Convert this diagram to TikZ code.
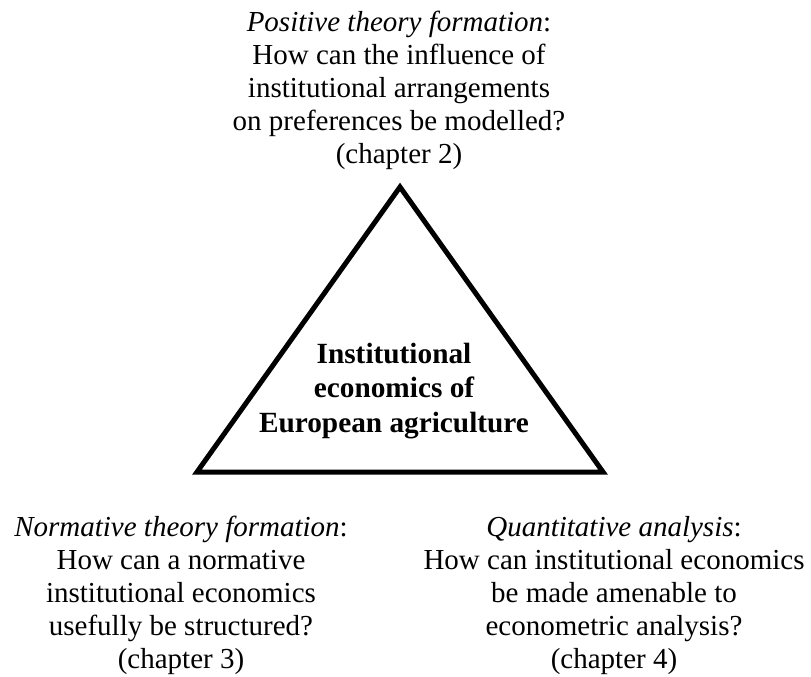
\documentclass[tikz,border=0pt]{standalone}
\usepackage{fontspec}
\setmainfont{Liberation Serif}
\begin{document}
\begin{tikzpicture}[x=1pt,y=-1pt,
  label/.style={align=center, inner sep=0pt, anchor=base, font=\fontsize{29}{33}\selectfont},
  core/.style={align=center, inner sep=0pt, anchor=base, font=\fontsize{29.3}{34.5}\selectfont\bfseries},
  tri/.style={line width=5pt, line join=miter}]
\useasboundingbox (0,0) rectangle (811,677);
\coordinate (apex) at (400,187);
\coordinate (bl) at (197,472);
\coordinate (br) at (603,472);
\draw[tri] (apex) -- (bl) -- (br) -- cycle;
\node[label] (pos) at (399,163) {\textit{Positive theory formation}:\\How can the influence of\\institutional arrangements\\on preferences be modelled?\\(chapter 2)};
\node[core] (centre) at (394,432) {Institutional\\economics of\\European agriculture};
\node[label] (norm) at (181,668) {\textit{Normative theory formation}:\\How can a normative\\institutional economics\\usefully be structured?\\(chapter 3)};
\node[label] (quant) at (614,668) {\textit{Quantitative analysis}:\\How can institutional economics\\be made amenable to\\econometric analysis?\\(chapter 4)};
\end{tikzpicture}
\end{document}
